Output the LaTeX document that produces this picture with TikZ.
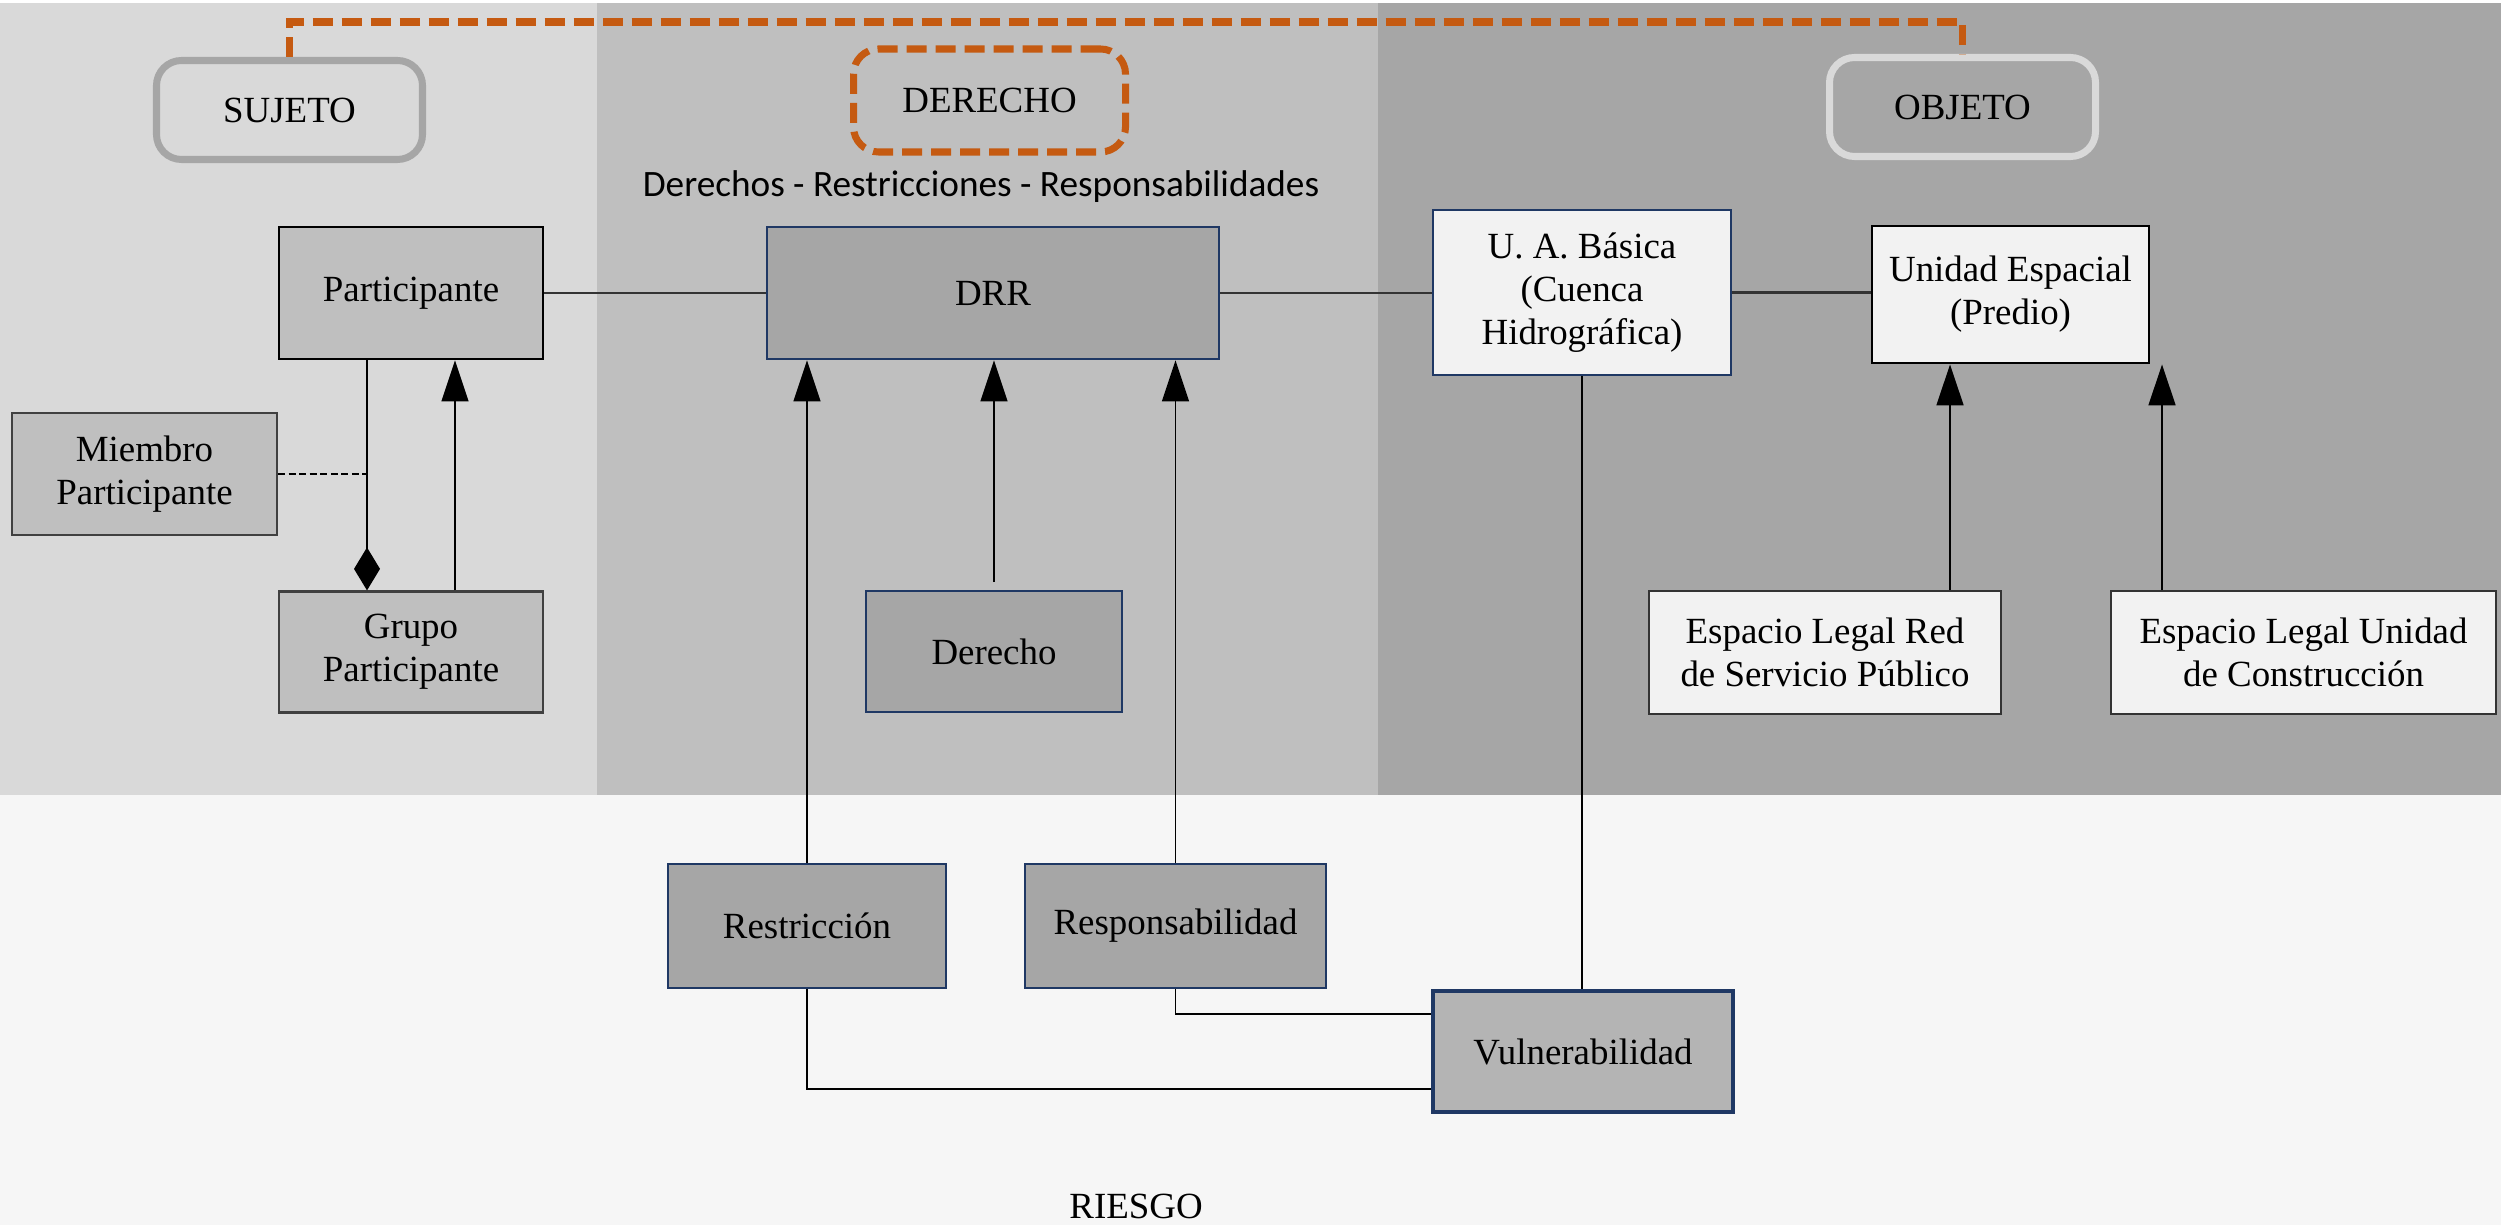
\documentclass[tikz,border=0pt]{standalone}
\usepackage{fontspec}
\setmainfont{Liberation Serif}
\newfontfamily\calibrifont{Carlito}
\usetikzlibrary{positioning,calc,arrows.meta}
\definecolor{navy}{RGB}{31,56,100}
\definecolor{orangeline}{RGB}{197,90,17}
\definecolor{bgleft}{RGB}{217,217,217}
\definecolor{bgmid}{RGB}{191,191,191}
\definecolor{bgright}{RGB}{166,166,166}
\definecolor{bgbottom}{RGB}{246,246,246}
\definecolor{boxlight}{RGB}{242,242,242}
\definecolor{vulnfill}{RGB}{180,180,180}
\tikzset{class box/.style={draw=black, rectangle, inner sep=2pt, align=center, line width=0.5pt}}
\tikzset{group label/.style={rectangle, rounded corners=0.25cm, line width=2pt, minimum width=2.66cm, minimum height=0.99cm}}
\tikzset{orange dash/.style={draw=orangeline, line width=2pt, dash pattern=on 0.2cm off 0.09cm}}
\tikzset{inherit/.style={-{Triangle[length=4.1mm,width=2.7mm]}}}
\tikzset{compose/.style={-{Diamond[length=4.3mm,width=2.6mm]}}}

\begin{document}
\begin{tikzpicture}[font=\fontsize{10.5}{12.2}\selectfont]
\useasboundingbox (0,0) rectangle (25.01,-12.25);
\fill[bgbottom] (0,0) rectangle (25.01,-12.25);
\fill[white] (0,0) rectangle (25.01,-0.03);
\fill[bgleft] (0,-0.03) rectangle (5.97,-7.95);
\fill[bgmid] (5.97,-0.03) rectangle (13.78,-7.95);
\fill[bgright] (13.78,-0.03) rectangle (25.01,-7.95);

% group labels
\node[group label, draw=bgright] (sujeto) at (2.895,-1.10) {SUJETO};
\node[group label, orange dash, minimum width=2.72cm, minimum height=1.03cm] (derecho) at (9.895,-1.005) {DERECHO};
\node[group label, draw=bgleft] (objeto) at (19.625,-1.07) {OBJETO};
\node[font=\calibrifont\fontsize{10.6}{12.5}\selectfont] (drrtitle) at (9.81,-1.87) {Derechos - Restricciones - Responsabilidades};

% upper row
\node[class box, fill=bgmid, line width=0.8pt, minimum width=2.64cm, minimum height=1.32cm] (part) at (4.11,-2.93) {Participante};
\node[class box, fill=bgright, draw=navy, line width=0.8pt, minimum width=4.52cm, minimum height=1.32cm] (drr) at (9.93,-2.93) {DRR};
\node[class box, fill=boxlight, draw=navy, line width=0.8pt, minimum width=2.98cm, minimum height=1.65cm] (uab) at (15.82,-2.925) {U. A. Básica\\(Cuenca\\Hidrográfica)};
\node[class box, fill=boxlight, line width=0.8pt, minimum width=2.77cm, minimum height=1.37cm] (ue) at (20.105,-2.945) {Unidad Espacial\\(Predio)};

% lower rows
\node[class box, fill=bgmid, draw=black!75, line width=0.6pt, minimum width=2.65cm, minimum height=1.22cm] (miembro) at (1.445,-4.74) {Miembro\\Participante};
\node[class box, fill=bgmid, draw=black!75, line width=0.6pt, minimum width=2.64cm, minimum height=1.21cm, below=2.3cm of part] (grupo) {Grupo\\Participante};
\node[class box, fill=bgright, draw=navy, minimum width=2.56cm, minimum height=1.21cm] (der) at (9.94,-6.515) {Derecho};
\node[class box, fill=boxlight, draw=black!80, minimum width=3.52cm, minimum height=1.23cm] (elred) at (18.25,-6.525) {Espacio Legal Red\\de Servicio Público};
\node[class box, fill=boxlight, draw=black!80, minimum width=3.85cm, minimum height=1.23cm] (eluc) at (23.035,-6.525) {Espacio Legal Unidad\\de Construcción};
\node[class box, fill=bgright, draw=navy, minimum width=2.78cm, minimum height=1.24cm] (restr) at (8.07,-9.26) {Restricción};
\node[class box, fill=bgright, draw=navy, minimum width=3.01cm, minimum height=1.24cm] (resp) at (11.755,-9.26) {Responsabilidad};
\node[class box, fill=vulnfill, draw=navy, line width=1pt, minimum width=3.0cm, minimum height=1.21cm] (vuln) at (15.83,-10.515) {Vulnerabilidad};
\node (riesgo) at (11.36,-12.06) {RIESGO};

% connectors
\coordinate (topline) at (0,-0.22);
\draw[orange dash] (sujeto.north) -- (sujeto.north |- topline) -| (objeto.north);
\draw[line width=0.6pt, black!80] (part) -- (drr);
\draw[line width=0.6pt, black!80] (drr.east) -- (drr.east -| uab.west);
\draw[line width=0.6pt, black!80] (uab.east) -- (uab.east -| ue.west);

\coordinate (compx) at (3.67,0);
\coordinate (inhx) at (4.55,0);
\draw[compose] (part.south -| compx) -- (grupo.north -| compx);
\draw[inherit] (grupo.north -| inhx) -- (part.south -| inhx);
\draw[dash pattern=on 2pt off 1pt] (miembro.east) -- (miembro.east -| compx);

\draw[inherit] (restr.north) -- (drr.south -| restr.north);
\draw[inherit] ([yshift=0.08cm]der.north) -- (drr.south -| der.north);
\draw[inherit] (resp.north) -- (drr.south -| resp.north);

\coordinate (redx) at (19.50,0);
\coordinate (ucx) at (21.62,0);
\draw[inherit] (elred.north -| redx) -- (ue.south -| redx);
\draw[inherit] (eluc.north -| ucx) -- (ue.south -| ucx);

\draw (uab.south) -- (uab.south |- vuln.north);
\draw (resp.south) |- ($(vuln.north west)!0.2!(vuln.south west)$);
\draw (restr.south) |- ($(vuln.north west)!0.8!(vuln.south west)$);
\end{tikzpicture}
\end{document}
